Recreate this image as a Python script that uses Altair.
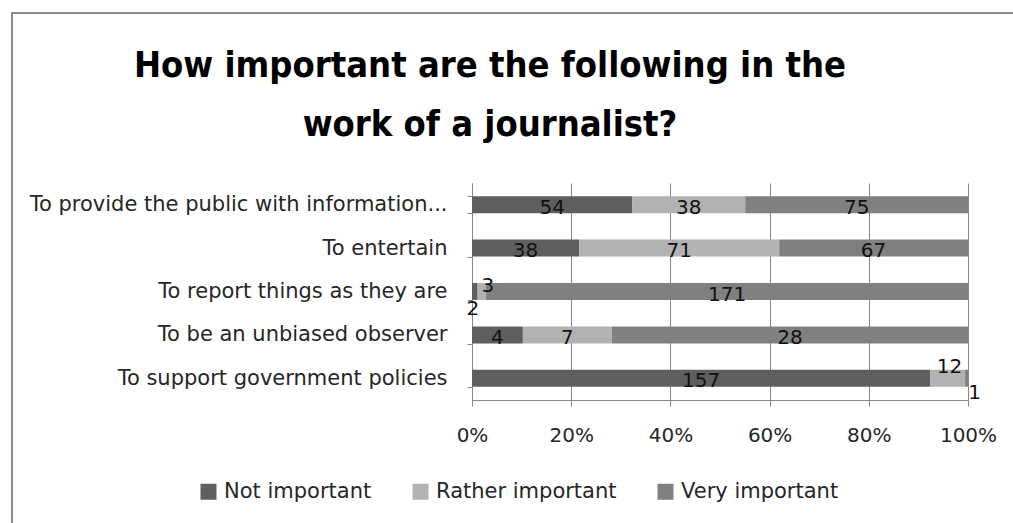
import altair as alt
import pandas as pd

categories = [
    "To provide the public with information...",
    "To entertain",
    "To report things as they are",
    "To be an unbiased observer",
    "To support government policies",
]
levels = ["Not important", "Rather important", "Very important"]
not_important = [54, 38, 2, 4, 157]
rather_important = [38, 71, 3, 7, 12]
very_important = [75, 67, 171, 28, 1]
colors = ["#5f5f5f", "#b2b2b2", "#808080"]
x_ticks = [0, 0.2, 0.4, 0.6, 0.8, 1.0]
title_lines = ["How important are the following in the", "work of a journalist?"]

# label nudges for tiny segments (Excel-style placement)
nudges = {
    ("To report things as they are", "Not important"): (-2, 14),
    ("To report things as they are", "Rather important"): (6, -9),
    ("To support government policies", "Rather important"): (2, -14),
    ("To support government policies", "Very important"): (8, 12),
}

rows = []
for i, cat in enumerate(categories):
    vals = [not_important[i], rather_important[i], very_important[i]]
    total = sum(vals)
    cum = 0
    for lvl, v in zip(levels, vals):
        start = cum / total
        cum += v
        end = cum / total
        dx, dy = nudges.get((cat, lvl), (0, 0))
        rows.append(dict(cat=cat, level=lvl, value=v, start=start, end=end,
                         mid=(start + end) / 2, dx=dx, dy=dy))
df = pd.DataFrame(rows)

FONT = "DejaVu Sans"
TITLE_FONT = "DejaVu Sans Condensed"
TXT = "#262626"

y_enc = alt.Y("cat:N", sort=categories, title=None,
              scale=alt.Scale(paddingInner=0.6, paddingOuter=0.3),
              axis=alt.Axis(tickBand="extent", tickSize=5, labelPadding=20,
                            labelFont=FONT, labelFontSize=21, labelColor=TXT,
                            domainColor="#868686", tickColor="#868686", grid=False,
                            labelLimit=600))

bars = alt.Chart(df).mark_bar(size=17).encode(
    x=alt.X("start:Q", scale=alt.Scale(domain=[0, 1], nice=False), title=None,
            axis=alt.Axis(format=".0%", values=x_ticks, tickSize=6, labelPadding=19,
                          labelFlush=False,
                          labelFont=FONT, labelFontSize=20, labelColor=TXT,
                          domainColor="#868686", tickColor="#868686",
                          gridColor="#868686", gridOpacity=1, grid=True)),
    x2="end:Q",
    y=y_enc,
    color=alt.Color("level:N", sort=levels,
                    scale=alt.Scale(domain=levels, range=colors),
                    legend=alt.Legend(orient="none", legendX=-274, legendY=298,
                                      direction="horizontal", title=None,
                                      symbolType="square", symbolSize=256,
                                      symbolStrokeWidth=0, labelFont=FONT,
                                      labelFontSize=21, labelColor=TXT,
                                      labelLimit=400,
                                      columnPadding=38, labelOffset=5)),
)

def label_layer(dx, dy):
    sub = df[(df.dx == dx) & (df.dy == dy)]
    return alt.Chart(sub).mark_text(font=FONT, fontSize=20, color="#111111",
                                    dx=dx, dy=dy + 3).encode(
        x=alt.X("mid:Q"), y=alt.Y("cat:N", sort=categories), text="value:Q")

pairs = sorted(set(zip(df.dx, df.dy)))
text_layers = [label_layer(dx, dy) for dx, dy in pairs]

border = alt.Chart(pd.DataFrame({"a": [0]})).mark_rect(
    filled=False, stroke="#8c8c8c", strokeWidth=2).encode(
    x=alt.value(-460), x2=alt.value(560), y=alt.value(-170), y2=alt.value(360))

title_df = pd.DataFrame({"line": title_lines, "row": [0, 1]})
title1 = alt.Chart(title_df[title_df.row == 0]).mark_text(
    font=TITLE_FONT, fontSize=36, fontWeight="bold", color="#000000",
    align="center", baseline="alphabetic").encode(
    x=alt.value(18), y=alt.value(-106), text="line:N")
title2 = alt.Chart(title_df[title_df.row == 1]).mark_text(
    font=TITLE_FONT, fontSize=36, fontWeight="bold", color="#000000",
    align="center", baseline="alphabetic").encode(
    x=alt.value(18), y=alt.value(-47), text="line:N")

chart = alt.layer(border, bars, *text_layers, title1, title2).properties(
    width=496, height=217,
    padding={"left": 472, "top": 183, "right": 45, "bottom": 123},
    autosize=alt.AutoSizeParams(type="none"),
).configure_view(stroke=None)

chart.save("out.html", embed_options={"renderer": "svg", "actions": False})
